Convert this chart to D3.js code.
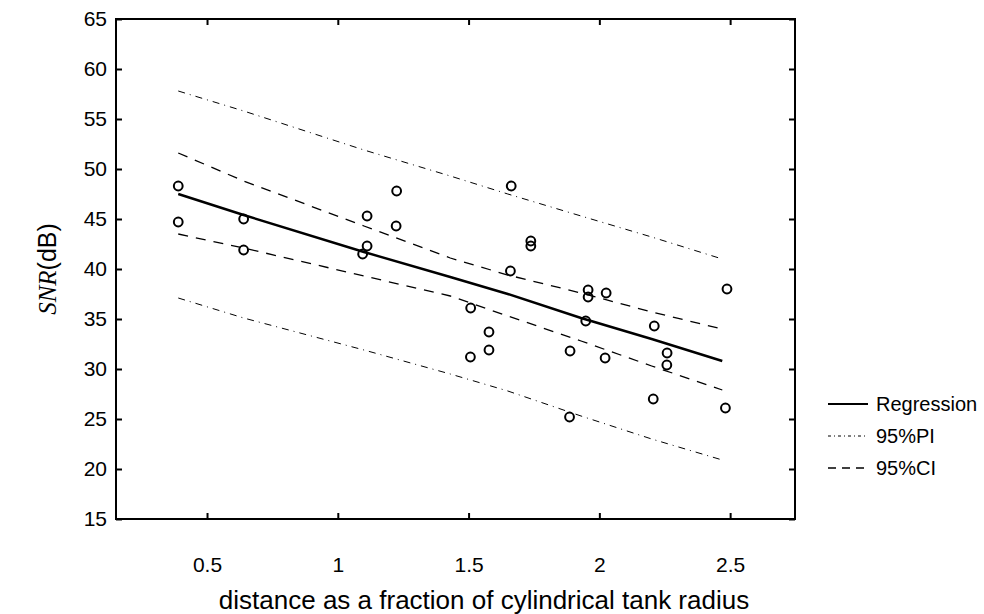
<!DOCTYPE html>
<html>
<head>
<meta charset="utf-8">
<script src="https://cdn.jsdelivr.net/npm/d3@7"></script>
<style>
  body { margin: 0; background: #fff; }
  svg text { font-family: "Liberation Sans", Arial, sans-serif; fill: #000; }
</style>
</head>
<body>
<svg id="chart"></svg>
<script>
// measured points: distance (fraction of tank radius) vs SNR (dB)
const distance = [0.39, 0.39, 0.64, 0.64, 1.112, 1.225, 1.223, 1.112, 1.095, 1.663,
                  1.66, 1.738, 1.738, 1.957, 1.957, 1.948, 2.026, 2.488, 1.508, 1.578,
                  1.578, 1.507, 1.888, 2.022, 2.21, 2.259, 2.258, 2.206, 1.886, 2.482];
const snr = [48.3, 44.7, 45.0, 41.9, 45.3, 47.8, 44.3, 42.3, 41.5, 48.3,
             39.8, 42.8, 42.3, 37.9, 37.2, 34.8, 37.6, 38.0, 36.1, 33.7,
             31.9, 31.2, 31.8, 31.1, 34.3, 31.6, 30.4, 27.0, 25.2, 26.1];

// fitted curves at these distances
const curveX     = [0.39, 0.64, 1.1, 1.43, 1.65, 1.93, 2.2, 2.47];
const regression = [47.5, 45.4, 41.7, 39.2, 37.5, 35.1, 33.0, 30.8];
const ciUpper    = [51.6, 48.8, 44.3, 41.1, 39.4, 37.6, 35.7, 34.0];
const ciLower    = [43.5, 42.1, 39.3, 37.3, 35.3, 32.8, 30.3, 27.9];
const piUpper    = [57.8, 55.8, 51.9, 49.3, 47.5, 45.3, 43.2, 41.0];
const piLower    = [37.1, 35.1, 31.9, 29.5, 27.8, 25.3, 23.0, 20.9];

const xTicks = [0.5, 1, 1.5, 2, 2.5];
const yTicks = [15, 20, 25, 30, 35, 40, 45, 50, 55, 60, 65];
const legendLabels = ['Regression', '95%PI', '95%CI'];

class RegressionPlot {
    constructor(_config) {
        this.config = {
            parentElement: _config.parentElement,
            containerWidth: _config.containerWidth || 984,
            containerHeight: _config.containerHeight || 614,
            margin: _config.margin || {top: 19, right: 189, bottom: 95, left: 116},
        }
        this.initVis();
    }

    initVis() {
        let vis = this;

        vis.width = vis.config.containerWidth - vis.config.margin.left - vis.config.margin.right;
        vis.height = vis.config.containerHeight - vis.config.margin.top - vis.config.margin.bottom;

        vis.svg = d3.select(vis.config.parentElement)
            .attr('width', vis.config.containerWidth)
            .attr('height', vis.config.containerHeight);

        vis.chart = vis.svg.append('g')
            .attr('transform', `translate(${vis.config.margin.left},${vis.config.margin.top})`);

        vis.xScale = d3.scaleLinear()
            .domain([0.152, 2.748])
            .range([0, vis.width]);

        vis.yScale = d3.scaleLinear()
            .domain([15, 65])
            .range([vis.height, 0]);

        vis.renderVis();
    }

    renderVis() {
        let vis = this;

        // ticks point inward on all four sides
        const styleAxis = g => {
            g.attr('font-size', 21);
            g.select('.domain').remove();
            g.selectAll('.tick line').attr('stroke', '#000').attr('stroke-width', 2);
        };

        vis.chart.append('g')
            .attr('transform', `translate(0,${vis.height})`)
            .call(d3.axisBottom(vis.xScale).tickValues(xTicks).tickSize(-6).tickPadding(38)
                .tickFormat(d3.format('')))
            .call(styleAxis);

        vis.chart.append('g')
            .call(d3.axisTop(vis.xScale).tickValues(xTicks).tickSize(-6).tickFormat(''))
            .call(styleAxis);

        vis.chart.append('g')
            .call(d3.axisLeft(vis.yScale).tickValues(yTicks).tickSize(-6).tickPadding(9))
            .call(styleAxis);

        vis.chart.append('g')
            .attr('transform', `translate(${vis.width},0)`)
            .call(d3.axisRight(vis.yScale).tickValues(yTicks).tickSize(-6).tickFormat(''))
            .call(styleAxis);

        vis.chart.append('rect')
            .attr('width', vis.width)
            .attr('height', vis.height)
            .attr('fill', 'none')
            .attr('stroke', '#000')
            .attr('stroke-width', 2);

        const line = ys => d3.line()
            .x((d, i) => vis.xScale(curveX[i]))
            .y(d => vis.yScale(d))(ys);

        const piStyle = {width: 1, dash: '7,5,1,5'};
        const ciStyle = {width: 1.3, dash: '10,8'};

        [piUpper, piLower].forEach(ys => {
            vis.chart.append('path')
                .attr('d', line(ys))
                .attr('fill', 'none')
                .attr('stroke', '#000')
                .attr('stroke-width', piStyle.width)
                .attr('stroke-dasharray', piStyle.dash);
        });

        [ciUpper, ciLower].forEach(ys => {
            vis.chart.append('path')
                .attr('d', line(ys))
                .attr('fill', 'none')
                .attr('stroke', '#000')
                .attr('stroke-width', ciStyle.width)
                .attr('stroke-dasharray', ciStyle.dash);
        });

        vis.chart.append('path')
            .attr('d', line(regression))
            .attr('fill', 'none')
            .attr('stroke', '#000')
            .attr('stroke-width', 2.4);

        vis.chart.selectAll('circle')
            .data(distance)
            .join('circle')
                .attr('cx', d => vis.xScale(d))
                .attr('cy', (d, i) => vis.yScale(snr[i]))
                .attr('r', 4.4)
                .attr('fill', 'none')
                .attr('stroke', '#000')
                .attr('stroke-width', 2);

        // axis titles
        vis.svg.append('text')
            .attr('x', 484)
            .attr('y', 609)
            .attr('text-anchor', 'middle')
            .style('font-size', '26px')
            .text('distance as a fraction of cylindrical tank radius');

        const yTitle = vis.svg.append('text')
            .attr('transform', `translate(56,${vis.config.margin.top + vis.height / 2}) rotate(-90)`)
            .attr('text-anchor', 'middle')
            .style('font-size', '25px');
        yTitle.append('tspan')
            .style('font-family', '"Liberation Serif", "Times New Roman", serif')
            .style('font-style', 'italic')
            .text('SNR');
        yTitle.append('tspan').text('(dB)');

        // legend
        const legendStyles = [{width: 2.2, dash: null}, {width: 1, dash: '3,3,1,3'}, {width: 1.3, dash: '8,6'}];
        const legend = vis.svg.append('g')
            .attr('transform', 'translate(828,404)');
        legendLabels.forEach((label, i) => {
            const row = legend.append('g').attr('transform', `translate(0,${i * 32})`);
            row.append('line')
                .attr('x1', 0).attr('x2', 40)
                .attr('stroke', '#000')
                .attr('stroke-width', legendStyles[i].width)
                .attr('stroke-dasharray', legendStyles[i].dash);
            row.append('text')
                .attr('x', 48)
                .attr('dy', '0.35em')
                .style('font-size', '20px')
                .text(label);
        });
    }
}

new RegressionPlot({parentElement: '#chart'});
</script>
</body>
</html>
